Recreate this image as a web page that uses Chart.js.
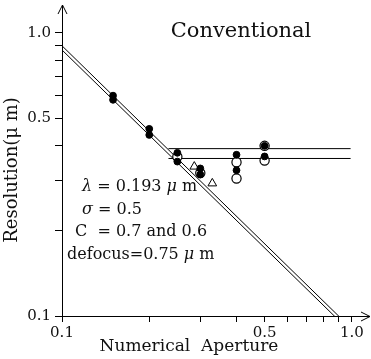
<!DOCTYPE html>
<html>
<head>
<meta charset="utf-8">
<script src="https://cdn.jsdelivr.net/npm/chart.js@4.4.1/dist/chart.umd.min.js"></script>
<style>
  html, body { margin: 0; padding: 0; background: #fff; }
  #wrap { width: 371px; height: 359px; }
</style>
</head>
<body>
<div id="wrap"><canvas id="resChart" width="371" height="359"></canvas></div>
<script>
// values (log-log axes)
const xTicks = [0.1, 0.2, 0.3, 0.4, 0.5, 0.6, 0.7, 0.8, 0.9, 1.0];
const yTicks = [0.1, 0.2, 0.3, 0.4, 0.5, 0.6, 0.7, 0.8, 0.9, 1.0];
const labelledTicks = [0.1, 0.5, 1.0];

// two diagonal limit lines (endpoints)
const diagNA = [0.1, 1.0];
const diagUpper = [0.90, 0.09];
const diagLower = [0.87, 0.087];

// two flat lines
const flatNA = [0.233, 0.99];
const flatUpper = [0.39, 0.39];
const flatLower = [0.36, 0.36];

// measured points
const filledNA = [0.15, 0.15, 0.2, 0.2, 0.25, 0.25, 0.3, 0.3, 0.4, 0.4, 0.5, 0.5];
const filledRes = [0.60, 0.58, 0.458, 0.436, 0.377, 0.351, 0.332, 0.316, 0.371, 0.327, 0.399, 0.366];
const openNA = [0.25, 0.3, 0.4, 0.4, 0.5, 0.5];
const openRes = [0.365, 0.32, 0.349, 0.306, 0.399, 0.354];
const triNA = [0.286, 0.33];
const triRes = [0.337, 0.294];

const pts = (xs, ys) => xs.map((x, i) => ({ x: x, y: ys[i] }));
const SERIF = '"DejaVu Serif", "Liberation Serif", serif';

const lineStyle = {
    borderColor: '#000',
    borderWidth: 1,
    pointRadius: 0,
    showLine: true,
    fill: false,
    order: 5,
};

// arrows + free text
const decor = {
    id: 'decor',
    afterDraw(chart) {
        const ctx = chart.ctx;
        const a = chart.chartArea;
        ctx.save();
        ctx.strokeStyle = '#000';
        ctx.lineWidth = 1;
        // y axis arrow
        ctx.beginPath();
        ctx.moveTo(a.left + 0.5, a.top);
        ctx.lineTo(a.left + 0.5, 5);
        ctx.moveTo(a.left - 4, 14);
        ctx.lineTo(a.left + 0.5, 5);
        ctx.lineTo(a.left + 5, 14);
        ctx.stroke();
        // x axis arrow
        ctx.beginPath();
        ctx.moveTo(a.right, a.bottom + 0.5);
        ctx.lineTo(370, a.bottom + 0.5);
        ctx.moveTo(361, a.bottom - 4);
        ctx.lineTo(370, a.bottom + 0.5);
        ctx.lineTo(361, a.bottom + 5);
        ctx.stroke();

        ctx.fillStyle = '#111';
        ctx.textBaseline = 'middle';
        ctx.textAlign = 'center';
        ctx.font = '21px ' + SERIF;
        ctx.fillText('Conventional', 241, 32);

        ctx.font = '17px ' + SERIF;
        ctx.fillText('Numerical  Aperture', 189, 347);

        ctx.save();
        ctx.translate(12, 170);
        ctx.rotate(-Math.PI / 2);
        ctx.font = '18px ' + SERIF;
        ctx.fillText('Resolution(\u03bc m)', 0, 0);
        ctx.restore();

        const lines = [
            { x: 82, y: 187, parts: [['\u03bb', 'italic '], [' = 0.193 ', ''], ['\u03bc', 'italic '], [' m', '']] },
            { x: 82, y: 210, parts: [['\u03c3', 'italic '], [' = 0.5', '']] },
            { x: 75, y: 232, parts: [['C  = 0.7 and 0.6', '']] },
            { x: 67, y: 255, parts: [['defocus=0.75 ', ''], ['\u03bc', 'italic '], [' m', '']] },
        ];
        ctx.textAlign = 'left';
        lines.forEach(l => {
            let x = l.x;
            l.parts.forEach(p => {
                ctx.font = p[1] + '16px ' + SERIF;
                ctx.fillText(p[0], x, l.y);
                x += ctx.measureText(p[0]).width;
            });
        });
        ctx.restore();
    }
};

const ctx = document.getElementById('resChart').getContext('2d');
new Chart(ctx, {
    type: 'scatter',
    data: {
        datasets: [
            Object.assign({ data: pts(diagNA, diagUpper) }, lineStyle),
            Object.assign({ data: pts(diagNA, diagLower) }, lineStyle),
            Object.assign({ data: pts(flatNA, flatUpper) }, lineStyle),
            Object.assign({ data: pts(flatNA, flatLower) }, lineStyle),
            {
                data: pts(openNA, openRes),
                pointStyle: 'circle',
                pointRadius: 4.6,
                backgroundColor: '#fff',
                borderColor: '#000',
                borderWidth: 1.2,
                order: 3,
            },
            {
                data: pts(filledNA, filledRes),
                pointStyle: 'circle',
                pointRadius: 3.4,
                backgroundColor: '#000',
                borderColor: '#000',
                borderWidth: 1,
                order: 1,
            },
            {
                data: pts(triNA, triRes),
                pointStyle: 'triangle',
                pointRadius: 5,
                backgroundColor: '#fff',
                borderColor: '#000',
                borderWidth: 1,
                order: 2,
            },
        ],
    },
    options: {
        responsive: false,
        animation: false,
        layout: { padding: { top: 10, right: 6, left: 0, bottom: 0 } },
        plugins: {
            legend: { display: false },
            tooltip: { enabled: false },
        },
        scales: {
            x: {
                type: 'logarithmic',
                min: 0.1,
                max: 1.11,
                afterFit: s => { s.height = 43; },
                afterBuildTicks: s => { s.ticks = xTicks.map(v => ({ value: v })); },
                border: { color: '#000', width: 1 },
                grid: { drawOnChartArea: false, drawTicks: true, tickLength: 6, color: '#000' },
                ticks: {
                    autoSkip: false,
                    maxRotation: 0,
                    padding: 2,
                    color: '#111',
                    font: { family: SERIF, size: 15 },
                    callback: v => labelledTicks.includes(v) ? v.toFixed(1) : '',
                },
            },
            y: {
                type: 'logarithmic',
                min: 0.1,
                max: 1.175,
                afterFit: s => { s.width = 62; },
                afterBuildTicks: s => { s.ticks = yTicks.map(v => ({ value: v })); },
                border: { color: '#000', width: 1 },
                grid: { drawOnChartArea: false, drawTicks: true, tickLength: 7, color: '#000' },
                ticks: {
                    autoSkip: false,
                    padding: 4,
                    color: '#111',
                    font: { family: SERIF, size: 15 },
                    callback: v => labelledTicks.includes(v) ? v.toFixed(1) : '',
                },
            },
        },
    },
    plugins: [decor],
});
</script>
</body>
</html>
